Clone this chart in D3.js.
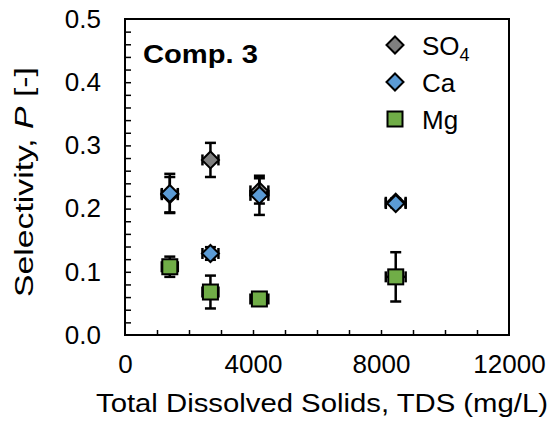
<!DOCTYPE html>
<html>
<head>
<meta charset="utf-8">
<script src="https://cdn.jsdelivr.net/npm/d3@7"></script>
<style>
  body { margin: 0; background: #fff; }
  text { font-family: "Liberation Sans", Arial, sans-serif; }
</style>
</head>
<body>
<svg width="556" height="435"></svg>
<script>
// values
const series = ["SO4", "Ca", "Mg"]
const colors = ["#7f7f7f", "#5b9bd5", "#70ad47"]
const tds = [1400, 2670, 4200, 8460]
const tdsErr = [250, 250, 280, 310]
const so4 = [0.222, 0.277, 0.228, 0.210]
const so4Err = [0.028, 0.027, 0.020, 0.006]
const ca = [0.224, 0.129, 0.221, 0.208]
const caErr = [0.031, 0.010, 0.031, 0.006]
const mg = [0.108, 0.068, 0.057, 0.092]
const mgErr = [0.016, 0.026, 0.004, 0.039]
const xTicks = [0, 4000, 8000, 12000]
const yTicks = [0, 0.1, 0.2, 0.3, 0.4, 0.5]

const margin = { left: 125, right: 47, top: 19, bottom: 100 }
const width = 556, height = 435
const svg = d3.select("svg")

const x = d3.scaleLinear().domain([0, 12000]).range([margin.left, width - margin.right])
const y = d3.scaleLinear().domain([0, 0.5]).range([height - margin.bottom, margin.top])

// minor ticks, inside
svg.append("g")
    .attr("transform", `translate(0,${y(0)})`)
    .call(d3.axisBottom(x).tickValues(d3.range(1000, 12000, 1000)).tickSize(-5).tickFormat(""))
    .call(g => g.select(".domain").remove())
    .selectAll("line").attr("stroke-width", 1.5)
svg.append("g")
    .attr("transform", `translate(${x(0)},0)`)
    .call(d3.axisLeft(y).tickValues(d3.range(0.02, 0.5, 0.02)).tickSize(-6).tickFormat(""))
    .call(g => g.select(".domain").remove())
    .selectAll("line").attr("stroke-width", 1.5)

// labels
svg.append("g")
    .attr("transform", `translate(0,${y(0)})`)
    .call(d3.axisBottom(x).tickValues(xTicks).tickSize(0).tickPadding(20).tickFormat(d3.format("d")))
    .call(g => g.select(".domain").remove())
    .selectAll("text").style("font-size", "26px").attr("fill", "#000")
svg.append("g")
    .attr("transform", `translate(${x(0)},0)`)
    .call(d3.axisLeft(y).tickValues(yTicks).tickSize(0).tickPadding(24).tickFormat(d3.format(".1f")))
    .call(g => g.select(".domain").remove())
    .selectAll("text").style("font-size", "26px").attr("fill", "#000")

// frame
svg.append("rect")
    .attr("x", x(0)).attr("y", y(0.5))
    .attr("width", x(12000) - x(0)).attr("height", y(0) - y(0.5))
    .attr("fill", "none").attr("stroke", "#000").attr("stroke-width", 2)

svg.append("text")
    .attr("x", 322).attr("y", 412)
    .attr("text-anchor", "middle").style("font-size", "26px")
    .attr("textLength", 452).attr("lengthAdjust", "spacingAndGlyphs")
    .text("Total Dissolved Solids, TDS (mg/L)")

const yt = svg.append("text")
    .attr("transform", `translate(33,182) rotate(-90)`)
    .attr("text-anchor", "middle").style("font-size", "26px")
    .attr("textLength", 230).attr("lengthAdjust", "spacingAndGlyphs")
yt.append("tspan").text("Selectivity, ")
yt.append("tspan").style("font-style", "italic").text("P")
yt.append("tspan").text(" [-]")

svg.append("text")
    .attr("x", 143).attr("y", 63)
    .style("font-size", "26px").style("font-weight", "bold")
    .attr("textLength", 115).attr("lengthAdjust", "spacingAndGlyphs")
    .text("Comp. 3")

const data = [
    { vals: so4, errs: so4Err, shape: "diamond" },
    { vals: ca, errs: caErr, shape: "diamond" },
    { vals: mg, errs: mgErr, shape: "square" }
]

function marker(g, shape, color) {
    if (shape === "diamond") {
        g.append("path").attr("d", "M0,-8.5L8.5,0L0,8.5L-8.5,0Z")
            .attr("fill", color).attr("stroke", "#000").attr("stroke-width", 2)
    } else {
        g.append("rect").attr("x", -7.5).attr("y", -7.5).attr("width", 15).attr("height", 15)
            .attr("fill", color).attr("stroke", "#000").attr("stroke-width", 2)
    }
}

data.forEach((s, si) => {
    const pts = tds.map((t, i) => ({ t, te: tdsErr[i], v: s.vals[i], e: s.errs[i] }))
    const g = svg.append("g")
    const eb = g.selectAll("g.eb").data(pts).join("g").attr("stroke", "#000").attr("stroke-width", 2.5)
    eb.append("line").attr("x1", d => x(d.t)).attr("x2", d => x(d.t))
        .attr("y1", d => y(d.v - d.e)).attr("y2", d => y(d.v + d.e))
    eb.append("line").attr("x1", d => x(d.t) - 5.5).attr("x2", d => x(d.t) + 5.5)
        .attr("y1", d => y(d.v - d.e)).attr("y2", d => y(d.v - d.e))
    eb.append("line").attr("x1", d => x(d.t) - 5.5).attr("x2", d => x(d.t) + 5.5)
        .attr("y1", d => y(d.v + d.e)).attr("y2", d => y(d.v + d.e))
    eb.append("line").attr("x1", d => x(d.t - d.te)).attr("x2", d => x(d.t + d.te))
        .attr("y1", d => y(d.v)).attr("y2", d => y(d.v))
    eb.append("line").attr("x1", d => x(d.t - d.te)).attr("x2", d => x(d.t - d.te))
        .attr("y1", d => y(d.v) - 5.5).attr("y2", d => y(d.v) + 5.5)
    eb.append("line").attr("x1", d => x(d.t + d.te)).attr("x2", d => x(d.t + d.te))
        .attr("y1", d => y(d.v) - 5.5).attr("y2", d => y(d.v) + 5.5)
    g.selectAll("g.m").data(pts).join("g")
        .attr("transform", d => `translate(${x(d.t)},${y(d.v)})`)
        .each(function () { marker(d3.select(this), s.shape, colors[si]) })
})

// legend
const lg = svg.append("g")
series.forEach((name, i) => {
    const row = lg.append("g").attr("transform", `translate(395,${45 + i * 37})`)
    marker(row, data[i].shape, colors[i])
    const t = row.append("text").attr("x", 27).attr("y", 10).style("font-size", "26px")
    if (name === "SO4") {
        t.append("tspan").text("SO")
        t.append("tspan").attr("dy", 6).style("font-size", "18px").text("4")
    } else {
        t.text(name)
    }
})
</script>
</body>
</html>
